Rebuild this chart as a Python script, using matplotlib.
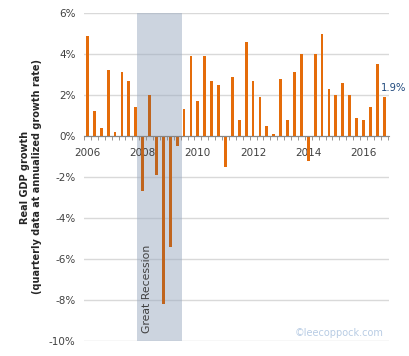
import numpy as np
import matplotlib.pyplot as plt
from matplotlib.ticker import FuncFormatter

# quarterly real GDP growth, 2006Q1 - 2016Q4 (annualized, %)
growth = [4.9, 1.2, 0.4, 3.2,
          0.2, 3.1, 2.7, 1.4,
          -2.7, 2.0, -1.9, -8.2,
          -5.4, -0.5, 1.3, 3.9,
          1.7, 3.9, 2.7, 2.5,
          -1.5, 2.9, 0.8, 4.6,
          2.7, 1.9, 0.5, 0.1,
          2.8, 0.8, 3.1, 4.0,
          -1.2, 4.0, 5.0, 2.3,
          2.0, 2.6, 2.0, 0.9,
          0.8, 1.4, 3.5, 1.9]
years = ['2006', '2008', '2010', '2012', '2014', '2016']
yticks = [-10, -8, -6, -4, -2, 0, 2, 4, 6]
recession = (7.25, 13.75)   # Dec 2007 - Jun 2009, in quarter index units

x = np.arange(len(growth))
colors = ['#c0651e' if recession[0] < i < recession[1] else '#e46c0a' for i in x]

fig = plt.figure(figsize=(4.1, 3.56), dpi=100)
ax = fig.add_axes([84/410, 15/356, 305/410, 328/356])

# gridlines by hand so they sit under the shading, while tick labels stay on top
for yt in yticks:
    ax.axhline(yt, color='#d9d9d9', lw=1, zorder=0.5)
ax.bar(x, growth, width=0.4, color=colors, zorder=2)
ax.axvspan(*recession, color='#9babc1', alpha=0.5, lw=0, zorder=1)

ax.set_xlim(-0.5, 43.7)
ax.set_ylim(-10, 6)
ax.set_yticks(yticks)
ax.yaxis.set_major_formatter(FuncFormatter(lambda v, p: f'{v:.0f}%'))

for s in ['top', 'right', 'left']:
    ax.spines[s].set_visible(False)
ax.spines['bottom'].set_position(('data', 0))
ax.spines['bottom'].set_color('#868686')
ax.spines['bottom'].set_zorder(3)

ax.set_xticks(x[::8])
ax.set_xticklabels(years)
ax.set_xticks(np.arange(len(growth) + 1) - 0.5, minor=True)
ax.tick_params(axis='x', which='major', length=0, pad=8.5, labelsize=7.5, labelcolor='#404040')
ax.tick_params(axis='x', which='minor', length=3, color='#868686', direction='out')
ax.tick_params(axis='y', length=0, pad=6, labelsize=7.5, labelcolor='#404040')

ax.set_ylabel('Real GDP growth\n(quarterly data at annualized growth rate)',
              fontsize=7, fontweight='bold', color='#262626', labelpad=5)

ax.text(8.6, -9.6, 'Great Recession', rotation=90, ha='center', va='bottom',
        fontsize=7.8, color='#404040')
ax.text(x[-1] - 0.45, growth[-1] + 0.45, f'{growth[-1]}%', ha='left', va='center',
        fontsize=7.2, color='#1f497d', clip_on=False)
fig.text(384/410, 1 - 333/356, '\u00a9leecoppock.com', ha='right', va='center',
         fontsize=7, color='#b8cce4')

fig.savefig('out.png', dpi=100)
